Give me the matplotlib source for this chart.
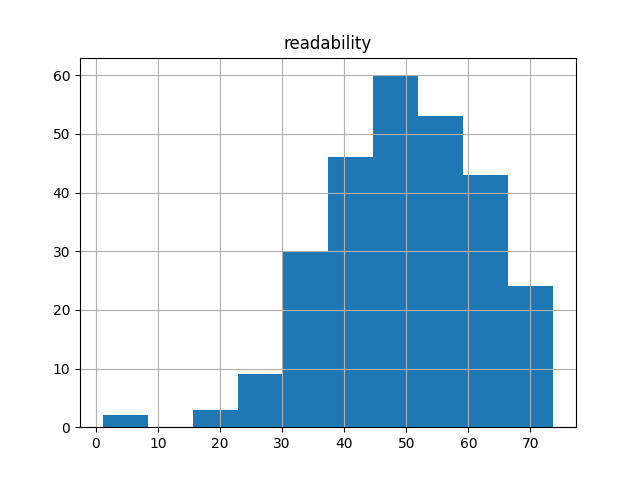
import numpy as np
import matplotlib
matplotlib.use("Agg")
import matplotlib.pyplot as plt

# histogram of "readability"
lo, hi = 1.1, 73.7
counts = [2, 0, 3, 9, 30, 46, 60, 53, 43, 24]

edges = np.linspace(lo, hi, len(counts) + 1)
centers = (edges[:-1] + edges[1:]) / 2

fig, ax = plt.subplots(figsize=(6.4, 4.8), dpi=100)
ax.hist(centers, bins=edges, weights=counts)
ax.grid(True)
ax.set_title("readability")

fig.savefig("out.png")
